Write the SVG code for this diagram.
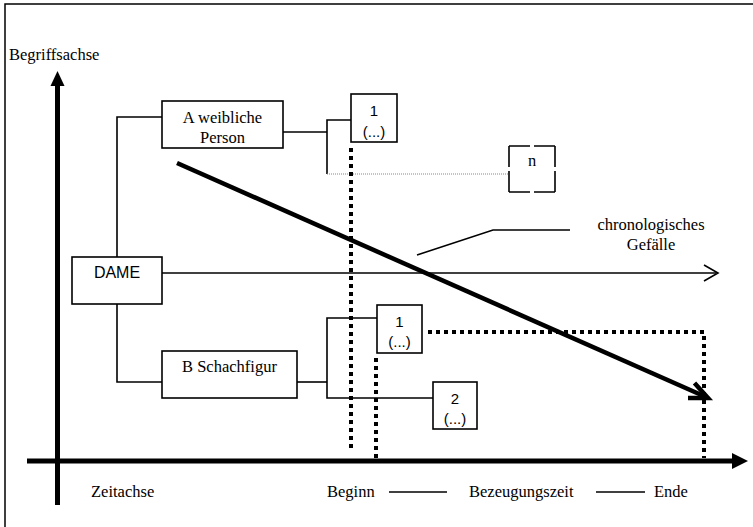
<svg xmlns="http://www.w3.org/2000/svg" width="753" height="527" viewBox="0 0 753 527">
<style>
.s{font-family:"Liberation Serif","Times New Roman",serif;font-size:16.5px;fill:#000}
.a{font-family:"Liberation Sans",Arial,sans-serif;font-size:15px;fill:#000}
.box{fill:#fff;stroke:#000;stroke-width:1.6}
.ln{fill:none;stroke:#000;stroke-width:1.6}
.dot{fill:none;stroke:#000;stroke-width:4;stroke-dasharray:4 4}
</style>
<rect x="0" y="0" width="753" height="527" fill="#fff"/>
<rect x="5" y="4" width="770" height="560" fill="none" stroke="#000" stroke-width="1.5"/>
<g id="axes">
<line x1="57.5" y1="505" x2="57.5" y2="84" stroke="#000" stroke-width="5"/>
<polygon points="57.5,71 50.5,86 64.5,86" fill="#000"/>
<line x1="27" y1="461" x2="734" y2="461" stroke="#000" stroke-width="5"/>
<polygon points="748,461 732,453 732,469" fill="#000"/>
<text class="s" x="9" y="60">Begriffsachse</text>
<text class="s" x="91" y="497">Zeitachse</text>
<text class="s" x="327" y="497">Beginn</text>
<line x1="389" y1="492" x2="447" y2="492" class="ln"/>
<text class="s" x="469" y="497">Bezeugungszeit</text>
<line x1="596" y1="492" x2="645" y2="492" class="ln"/>
<text class="s" x="654" y="497">Ende</text>
</g>
<g id="connectors">
<polyline class="ln" points="162,117 117,117 117,257"/>
<polyline class="ln" points="117,304 117,382 162,382"/>
<line class="ln" x1="162" y1="273" x2="716" y2="273"/>
<polyline class="ln" points="704,265 718,273 704,281"/>
<line class="ln" x1="283" y1="132" x2="327" y2="132"/>
<polyline class="ln" points="351,120 327,120 327,174"/>
<line x1="327" y1="174" x2="515" y2="174" stroke="#888" stroke-width="1" stroke-dasharray="1 1"/>
<line class="ln" x1="297" y1="382" x2="327" y2="382"/>
<polyline class="ln" points="377,318 327,318 327,398 433,398"/>
<polyline class="ln" points="417,255 493,230 570,230"/>
<line class="dot" x1="351" y1="148" x2="351" y2="448"/>
<line class="dot" x1="376" y1="358" x2="376" y2="459"/>
<polyline class="dot" points="428,332 704,332 704,458"/>
<line x1="177" y1="163" x2="706" y2="397" stroke="#000" stroke-width="4.5"/>
<polyline points="688,398 708,398 694.5,383" fill="none" stroke="#000" stroke-width="4.5"/>
</g>
<g id="label-gefaelle">
<text class="s" x="651" y="230" text-anchor="middle">chronologisches</text>
<text class="s" x="651" y="250" text-anchor="middle">Gefälle</text>
</g>
<g id="node-dame">
<rect class="box" x="72" y="257" width="90" height="47"/>
<text class="a" x="117" y="278" text-anchor="middle" style="font-size:16px">DAME</text>
</g>
<g id="node-a">
<rect class="box" x="162" y="101" width="121" height="47"/>
<text class="s" x="222.5" y="123" text-anchor="middle">A weibliche</text>
<text class="s" x="222.5" y="143" text-anchor="middle">Person</text>
</g>
<g id="node-b">
<rect class="box" x="162" y="351" width="135" height="47"/>
<text class="s" x="229.5" y="372" text-anchor="middle">B Schachfigur</text>
</g>
<g id="node-a1">
<rect class="box" x="351" y="94" width="46" height="48"/>
<text class="a" x="374" y="116" text-anchor="middle">1</text>
<text class="a" x="374" y="137" text-anchor="middle">(...)</text>
</g>
<g id="node-an">
<rect x="509" y="146" width="46" height="46" fill="#fff" stroke="#000" stroke-width="1.6" stroke-dasharray="21 4 21 0"/>
<text class="s" x="532" y="166" text-anchor="middle">n</text>
</g>
<g id="node-b1">
<rect class="box" x="377" y="305" width="45" height="48"/>
<text class="a" x="399.5" y="327" text-anchor="middle">1</text>
<text class="a" x="399.5" y="347" text-anchor="middle">(...)</text>
</g>
<g id="node-b2">
<rect class="box" x="433" y="382" width="44" height="47"/>
<text class="a" x="455" y="404" text-anchor="middle">2</text>
<text class="a" x="455" y="424" text-anchor="middle">(...)</text>
</g>
</svg>
